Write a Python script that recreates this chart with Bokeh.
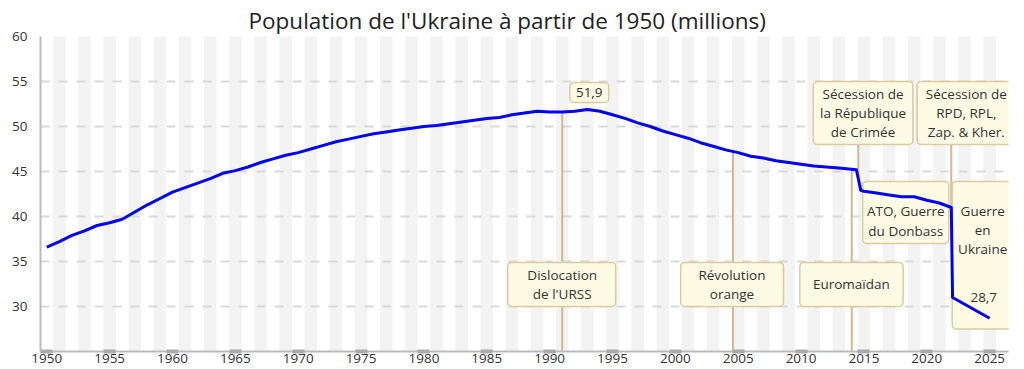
import numpy as np
from bokeh.plotting import figure
from bokeh.models import Range1d, FixedTicker
from bokeh.core.properties import value
from bokeh.embed import file_html
from bokeh.resources import INLINE

# ---------------- data ----------------
years = [1950, 1951, 1952, 1953, 1954, 1955, 1956, 1957, 1958, 1959,
         1960, 1961, 1962, 1963, 1964, 1965, 1966, 1967, 1968, 1969,
         1970, 1971, 1972, 1973, 1974, 1975, 1976, 1977, 1978, 1979,
         1980, 1981, 1982, 1983, 1984, 1985, 1986, 1987, 1988, 1989,
         1990, 1991, 1992, 1993, 1994, 1995, 1996, 1997, 1998, 1999,
         2000, 2001, 2002, 2003, 2004, 2005, 2006, 2007, 2008, 2009,
         2010, 2011, 2012, 2013, 2014.4, 2014.75, 2015, 2016, 2017, 2018,
         2019, 2020, 2021, 2021.95, 2022.05, 2025]
population = [36.6, 37.2, 37.9, 38.4, 39.0, 39.3, 39.7, 40.5, 41.3, 42.0,
              42.7, 43.2, 43.7, 44.2, 44.8, 45.1, 45.5, 46.0, 46.4, 46.8,
              47.1, 47.5, 47.9, 48.3, 48.6, 48.9, 49.2, 49.4, 49.6, 49.8,
              50.0, 50.1, 50.3, 50.5, 50.7, 50.9, 51.0, 51.3, 51.5, 51.7,
              51.6, 51.6, 51.7, 51.9, 51.7, 51.3, 50.9, 50.4, 50.0, 49.5,
              49.1, 48.7, 48.2, 47.8, 47.4, 47.1, 46.7, 46.5, 46.2, 46.0,
              45.8, 45.6, 45.5, 45.4, 45.2, 42.9, 42.8, 42.6, 42.4, 42.2,
              42.2, 41.8, 41.5, 41.0, 31.0, 28.7]

x_ticks = [1950, 1955, 1960, 1965, 1970, 1975, 1980, 1985, 1990, 1995,
           2000, 2005, 2010, 2015, 2020, 2025]
y_ticks = [30, 35, 40, 45, 50, 55, 60]

title_text = "Population de l'Ukraine à partir de 1950 (millions)"

# event annotations (text, box extents, text position)
event_texts = ["Dislocation\nde l'URSS", "Révolution\norange", "Euromaïdan",
               "Sécession de\nla République\nde Crimée", "ATO, Guerre\ndu Donbass",
               "Sécession de\nRPD, RPL,\nZap. & Kher.", "Guerre\nen\nUkraine"]
box_left = [1986.67, 2000.42, 2009.9, 2010.97, 2014.9, 2019.23, 2022.02]
box_right = [1995.25, 2008.6, 2018.12, 2018.89, 2021.75, 2027.07, 2026.87]
box_bottom = [30.0, 30.0, 30.0, 48.0, 37.0, 48.0, 27.5]
box_top = [34.9, 34.9, 34.9, 55.0, 43.9, 55.0, 43.9]
text_x = [1991.0, 2004.5, 2014.0, 2014.93, 2018.33, 2023.15, 2024.45]
text_y = [32.45, 32.45, 32.45, 51.5, 39.5, 51.5, 38.5]

# leader lines: below-data lines go down to axis, above-data go up to box
down_line_x = [1991.0, 2004.58, 2014.03]
up_line_x = [2014.55, 2021.95]
up_line_top = [48.0, 48.0]

# value callouts
peak_label = "51,9"
peak_box = (1991.6, 1994.7, 52.67, 54.9)
peak_text_xy = (1993.15, 53.8)
last_label = "28,7"
last_text_xy = (2024.53, 31.0)

X0, X1 = 1949.5, 2026.5
Y0, Y1 = 25, 60

FONT = "Open Sans"
TXT = "#333333"

p = figure(width=1024, height=369, x_range=Range1d(X0, X1), y_range=Range1d(Y0, Y1),
           output_backend="svg", toolbar_location=None,
           min_border_left=40, min_border_right=16, min_border_top=36, min_border_bottom=18,
           background_fill_color="white", border_fill_color="white", outline_line_color=None)

p.title.text = title_text
p.title.align = "left"
p.title.text_font = FONT
p.title.text_font_size = "22.5px"
p.title.text_font_style = "normal"
p.title.text_color = "#222222"
p.title.standoff = 2
p.title.offset = 208

# stripes via x grid bands
p.xgrid.ticker = FixedTicker(ticks=[y - 0.5 for y in range(1950, 2028)])
p.xgrid.grid_line_color = None
p.xgrid.band_fill_color = "#f3f3f3"
p.xgrid.band_fill_alpha = 1.0

p.ygrid.ticker = FixedTicker(ticks=y_ticks)
p.ygrid.grid_line_color = "#dadada"
p.ygrid.grid_line_width = 2
p.ygrid.grid_line_dash = "9 9"

# axes
p.xaxis.ticker = FixedTicker(ticks=x_ticks)
p.yaxis.ticker = FixedTicker(ticks=y_ticks)
for ax in (p.xaxis, p.yaxis):
    ax.axis_line_color = "#bbbbbb"
    ax.axis_line_width = 2
    ax.major_label_text_font = FONT
    ax.major_label_text_font_size = "13.5px"
    ax.major_label_text_color = TXT
    ax.minor_tick_line_color = None
p.yaxis.major_tick_line_color = None
p.yaxis.major_label_standoff = 7
p.xaxis.major_tick_line_color = "#aaaaaa"
p.xaxis.major_tick_line_width = 12
p.xaxis.major_tick_in = 2
p.xaxis.major_tick_out = 2
p.xaxis.major_label_standoff = 0

# leader lines
down_top = list(np.interp(down_line_x, years, population))
p.segment(x0=down_line_x, y0=[Y0] * len(down_line_x), x1=down_line_x, y1=down_top,
          line_color="#d2b88e", line_width=2)
up_bot = list(np.interp(up_line_x, years, population))
p.segment(x0=up_line_x, y0=up_bot, x1=up_line_x, y1=up_line_top,
          line_color="#d2b88e", line_width=2)

# boxes
BOX_FILL = "#fdfbe4"
BOX_LINE = "#dccaa0"
p.quad(left=box_left, right=box_right, bottom=box_bottom, top=box_top,
       fill_color=BOX_FILL, line_color=BOX_LINE, line_width=1.5, border_radius=4)
p.quad(left=[peak_box[0]], right=[peak_box[1]], bottom=[peak_box[2]], top=[peak_box[3]],
       fill_color=BOX_FILL, line_color=BOX_LINE, line_width=1.5, border_radius=4)

# data line
p.line(years, population, line_width=3, line_color="#0000ff", line_join="round")

# texts
p.text(x=text_x, y=text_y, text=event_texts, text_font=value(FONT), text_font_size="13.5px",
       text_align="center", text_baseline="middle", text_line_height=1.08, text_color=TXT)
p.text(x=[peak_text_xy[0], last_text_xy[0]], y=[peak_text_xy[1], last_text_xy[1]],
       text=[peak_label, last_label], text_font=value(FONT), text_font_size="13.5px",
       text_align="center", text_baseline="middle", text_color=TXT)

open("out.html", "w").write(file_html(p, INLINE))
